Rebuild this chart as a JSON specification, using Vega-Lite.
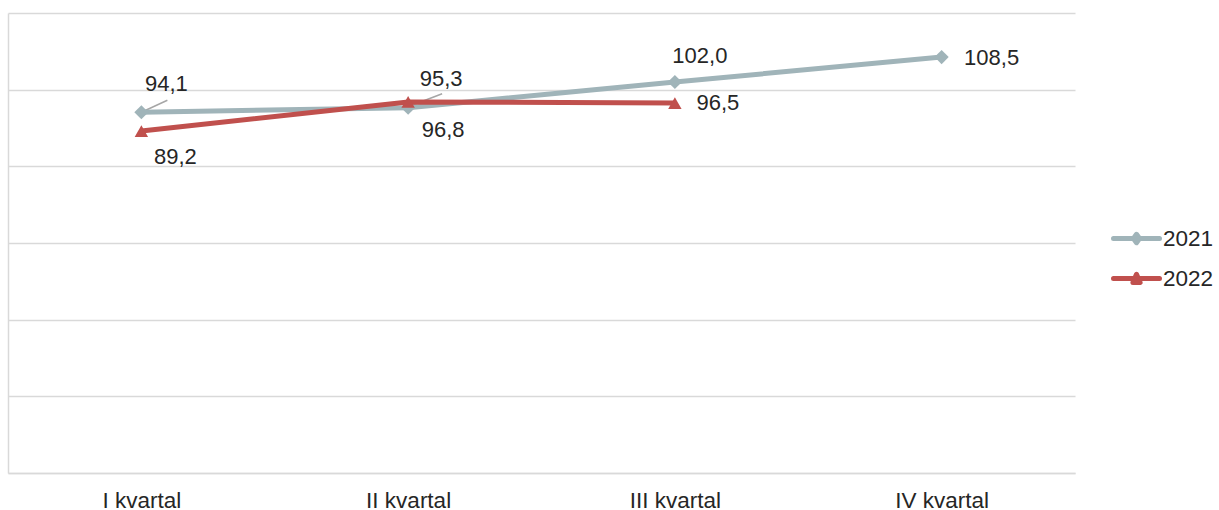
{
  "$schema": "https://vega.github.io/schema/vega-lite/v6.json",
  "width": 1067,
  "height": 460,
  "autosize": {"type": "none"},
  "padding": {"left": 8, "top": 13, "right": 144, "bottom": 37},
  "config": {
    "view": {"stroke": null},
    "font": "Liberation Sans",
    "locale": {"number": {"decimal": ",", "thousands": " ", "grouping": [3], "currency": ["", ""]}}
  },
  "data": {
    "values": [
      {"q": "I kvartal", "year": "2021", "value": 94.1},
      {"q": "II kvartal", "year": "2021", "value": 95.3},
      {"q": "III kvartal", "year": "2021", "value": 102.0},
      {"q": "IV kvartal", "year": "2021", "value": 108.5},
      {"q": "I kvartal", "year": "2022", "value": 89.2},
      {"q": "II kvartal", "year": "2022", "value": 96.8},
      {"q": "III kvartal", "year": "2022", "value": 96.5}
    ]
  },
  "encoding": {
    "x": {
      "field": "q", "type": "nominal",
      "sort": ["I kvartal", "II kvartal", "III kvartal", "IV kvartal"],
      "scale": {"type": "point", "padding": 0.5},
      "axis": {"title": null, "labelAngle": 0, "labelFontSize": 22.5, "labelColor": "#262626", "labelPadding": 16, "ticks": false, "domainColor": "#d9d9d9", "domainWidth": 1.5, "grid": false}
    },
    "y": {
      "field": "value", "type": "quantitative",
      "scale": {"domain": [0, 120]},
      "axis": {"title": null, "labels": false, "ticks": false, "values": [0, 20, 40, 60, 80, 100, 120], "grid": true, "gridColor": "#d9d9d9", "gridWidth": 1.5, "domainColor": "#d9d9d9", "domainWidth": 1.5}
    }
  },
  "layer": [
    {
      "transform": [{"filter": "datum.year === '2021' && datum.q === 'I kvartal'"}],
      "mark": {"type": "rule", "color": "#a6a6a6", "strokeWidth": 1.5, "xOffset": 0, "yOffset": 0, "x2Offset": 26, "y2Offset": -12},
      "encoding": {"x2": {"field": "q"}, "y2": {"field": "value"}}
    },
    {
      "transform": [{"filter": "datum.year === '2021' && datum.q === 'II kvartal'"}],
      "mark": {"type": "rule", "color": "#a6a6a6", "strokeWidth": 1.5, "xOffset": 0, "yOffset": -1, "x2Offset": 34, "y2Offset": -14},
      "encoding": {"x2": {"field": "q"}, "y2": {"field": "value"}}
    },
    {
      "mark": {"type": "line", "strokeWidth": 5},
      "encoding": {
        "color": {
          "field": "year", "type": "nominal",
          "scale": {"domain": ["2021", "2022"], "range": ["#a0b4b9", "#c0504d"]},
          "legend": {
            "title": null, "orient": "none", "legendX": 1116, "legendY": 213, "padding": 0,
            "labelFontSize": 22.5, "labelColor": "#262626", "labelOffset": 14, "rowPadding": 16,
            "symbolType": "M-2.3,0L2.3,0", "symbolSize": 400, "symbolStrokeWidth": 5,
            "encode": {
              "symbols": {
                "update": {
                  "shape": {"signal": "datum.value === '2021' ? 'M-2.3,0L2.3,0M0,-0.42L0.3,0L0,0.42L-0.3,0Z' : 'M-2.3,0L2.3,0M0,-0.42L0.36,0.4L-0.36,0.4Z'"},
                  "fill": {"signal": "datum.value === '2021' ? '#a0b4b9' : '#c0504d'"},
                  "stroke": {"signal": "datum.value === '2021' ? '#a0b4b9' : '#c0504d'"},
                  "strokeWidth": {"value": 5},
                  "strokeCap": {"value": "round"},
                  "strokeJoin": {"value": "round"},
                  "opacity": {"value": 1}
                }
              }
            }
          }
        }
      }
    },
    {
      "transform": [{"filter": "datum.year === '2021'"}],
      "mark": {"type": "point", "shape": "diamond", "filled": true, "size": 200, "color": "#a0b4b9", "opacity": 1}
    },
    {
      "transform": [{"filter": "datum.year === '2022'"}],
      "mark": {"type": "point", "shape": "triangle-up", "filled": true, "size": 180, "color": "#c0504d", "opacity": 1}
    },
    {
      "transform": [{"filter": "datum.year === '2021' && datum.q === 'I kvartal'"}],
      "mark": {"type": "text", "dx": 25, "dy": -28, "fontSize": 22, "color": "#262626"},
      "encoding": {"text": {"field": "value", "type": "quantitative", "format": ".1f"}}
    },
    {
      "transform": [{"filter": "datum.year === '2021' && datum.q === 'II kvartal'"}],
      "mark": {"type": "text", "dx": 33, "dy": -29, "fontSize": 22, "color": "#262626"},
      "encoding": {"text": {"field": "value", "type": "quantitative", "format": ".1f"}}
    },
    {
      "transform": [{"filter": "datum.year === '2021' && datum.q === 'III kvartal'"}],
      "mark": {"type": "text", "dx": 25, "dy": -26, "fontSize": 22, "color": "#262626"},
      "encoding": {"text": {"field": "value", "type": "quantitative", "format": ".1f"}}
    },
    {
      "transform": [{"filter": "datum.year === '2021' && datum.q === 'IV kvartal'"}],
      "mark": {"type": "text", "dx": 50, "dy": 1, "fontSize": 22, "color": "#262626"},
      "encoding": {"text": {"field": "value", "type": "quantitative", "format": ".1f"}}
    },
    {
      "transform": [{"filter": "datum.year === '2022' && datum.q === 'I kvartal'"}],
      "mark": {"type": "text", "dx": 34, "dy": 26, "fontSize": 22, "color": "#262626"},
      "encoding": {"text": {"field": "value", "type": "quantitative", "format": ".1f"}}
    },
    {
      "transform": [{"filter": "datum.year === '2022' && datum.q === 'II kvartal'"}],
      "mark": {"type": "text", "dx": 35, "dy": 28, "fontSize": 22, "color": "#262626"},
      "encoding": {"text": {"field": "value", "type": "quantitative", "format": ".1f"}}
    },
    {
      "transform": [{"filter": "datum.year === '2022' && datum.q === 'III kvartal'"}],
      "mark": {"type": "text", "dx": 43, "dy": 0, "fontSize": 22, "color": "#262626"},
      "encoding": {"text": {"field": "value", "type": "quantitative", "format": ".1f"}}
    }
  ]
}
